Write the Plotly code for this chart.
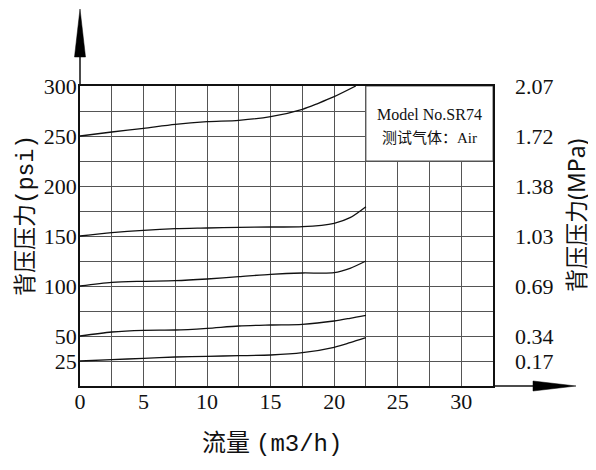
import plotly.graph_objects as go

# ---------------- data ----------------
flow = [0, 2.5, 5, 7.5, 10, 12.5, 15, 17.5, 20, 21.25, 22.5]
p25 = [25, 26.3, 27.7, 29, 29.7, 30.3, 31, 33.3, 38.7, 43.3, 48.3]
p50 = [50, 54, 55.7, 56, 57.7, 60, 61, 61.7, 65, 67.7, 70.7]
p100 = [100, 103.7, 104.7, 105.3, 107, 109.3, 111.7, 113, 113.3, 117.7, 125]
p150 = [150, 153.3, 155.7, 157.3, 158, 158.7, 159, 159.3, 162.7, 168.3, 179.3]
flow250 = [0, 2.5, 5, 7.5, 10, 12.5, 15, 17.5, 18.75, 20, 21.7]
p250 = [250, 254, 257.7, 261.7, 264.3, 265.7, 269.3, 276.7, 282.7, 289.3, 300]

x_ticks = [0, 5, 10, 15, 20, 25, 30]
y_ticks = [25, 50, 100, 150, 200, 250, 300]
mpa_labels = ["0.17", "0.34", "0.69", "1.03", "1.38", "1.72", "2.07"]

MONO = "Liberation Mono"
x_title = f"流量 <span style='font-family:{MONO}'>(m3/h)</span>"
y_title = f"背压压力<span style='font-family:{MONO}'>(psi)</span>"
y2_title = "背压压力<span style='font-family:Noto Sans'>(MPa)</span>"
box_lines = ["Model No.SR74", "测试气体：Air"]
box_x = [22.5, 32.5]
box_y = [225, 300]

# ---------------- layout geometry ----------------
OFF = 8  # default page body margin
W, H = 596 - OFF, 470 - OFF
# plot-area edges in screen pixels
SL, SR, ST, SB = 80, 493, 86, 386
L, R, T, B = SL - OFF, SR - OFF, ST - OFF, SB - OFF


def px(xs):
    return (xs - SL) / (SR - SL)


def py(ys):
    return (SB - ys) / (SB - ST)


LAT = "Liberation Serif, Noto Sans CJK SC"
CJK = "Liberation Serif, Noto Sans CJK SC"
GRID = "#555555"
INK = "#111111"

fig = go.Figure()
series = [(flow, p25), (flow, p50), (flow, p100), (flow, p150), (flow250, p250)]
for xs, ys in series:
    fig.add_trace(go.Scatter(
        x=xs, y=ys, mode="lines",
        line=dict(color=INK, width=1.3, shape="spline", smoothing=0.8),
        showlegend=False, hoverinfo="skip",
    ))

# invisible trace so the right-hand axis is drawn
fig.add_trace(go.Scatter(
    x=flow, y=p25, yaxis="y2", mode="lines",
    line=dict(width=0, color="rgba(0,0,0,0)"),
    showlegend=False, hoverinfo="skip",
))

fig.update_layout(
    width=W, height=H,
    margin=dict(l=L, r=W - R, t=T, b=H - B, pad=0, autoexpand=False),
    paper_bgcolor="white", plot_bgcolor="white",
    font=dict(family=LAT, color=INK),
    xaxis=dict(
        range=[0, 32.5], tickvals=x_ticks, ticks="", automargin=False,
        showgrid=True, gridcolor=GRID, gridwidth=1,
        minor=dict(dtick=2.5, tick0=0, showgrid=True, gridcolor=GRID, gridwidth=1),
        showline=True, linecolor=INK, linewidth=1.5, mirror=True,
        zeroline=False, tickfont=dict(family=LAT, size=22, color=INK),
        ticklabelstandoff=-5,
    ),
    yaxis=dict(
        range=[0, 300], tickvals=y_ticks, ticks="", automargin=False,
        showgrid=True, gridcolor=GRID, gridwidth=1,
        minor=dict(dtick=25, tick0=0, showgrid=True, gridcolor=GRID, gridwidth=1),
        showline=True, linecolor=INK, linewidth=1.5, mirror=True,
        zeroline=False, tickfont=dict(family=LAT, size=22, color=INK),
        ticklabelstandoff=-3,
    ),
    yaxis2=dict(
        range=[0, 300], overlaying="y", side="right", automargin=False,
        tickvals=y_ticks, ticktext=mpa_labels, ticks="",
        showgrid=False, showline=False, zeroline=False,
        tickfont=dict(family=LAT, size=22, color=INK),
        ticklabelstandoff=21,
    ),
    showlegend=False,
)

# legend-like info box (white, hides the grid in that corner)
fig.add_shape(type="rect", xref="x", yref="y",
              x0=box_x[0], x1=box_x[1], y0=box_y[0], y1=box_y[1],
              fillcolor="white", line=dict(color=GRID, width=1), layer="between")
box_cx = (box_x[0] + box_x[1]) / 2
box_cy = (box_y[0] + box_y[1]) / 2
fig.add_annotation(x=box_cx, y=box_cy + 9, xref="x", yref="y", text=box_lines[0],
                   showarrow=False, font=dict(family=LAT, size=16, color=INK))
fig.add_annotation(x=box_cx, y=box_cy - 14, xref="x", yref="y", text=box_lines[1],
                   showarrow=False, font=dict(family=CJK, size=15, color=INK))

# axis titles
fig.add_annotation(x=px(26), y=py(216), xref="paper", yref="paper", text=y_title,
                   textangle=-90, showarrow=False, xanchor="center", yanchor="middle",
                   font=dict(family=CJK, size=23, color=INK))
fig.add_annotation(x=px(576), y=py(216), xref="paper", yref="paper", text=y2_title,
                   textangle=-90, showarrow=False, xanchor="center", yanchor="middle",
                   font=dict(family=CJK, size=23, color=INK))
fig.add_annotation(x=px(272), y=py(444), xref="paper", yref="paper", text=x_title,
                   showarrow=False, xanchor="center", yanchor="middle",
                   font=dict(family=CJK, size=24, color=INK))

# axis extensions with arrow heads
fig.add_shape(type="line", xref="paper", yref="paper", x0=0, x1=0, y0=1, y1=py(57),
              line=dict(color=INK, width=1.5))
fig.add_shape(type="path", xref="paper", yref="paper",
              path=f"M {px(74.5)} {py(57)} L {px(85.5)} {py(57)} L {px(80)} {py(9)} Z",
              fillcolor="black", line=dict(color="black", width=0.5))
fig.add_shape(type="line", xref="paper", yref="paper", x0=1, x1=px(533), y0=0, y1=0,
              line=dict(color=INK, width=1.5))
fig.add_shape(type="path", xref="paper", yref="paper",
              path=f"M {px(533)} {py(381)} L {px(533)} {py(391)} L {px(576)} {py(386)} Z",
              fillcolor="black", line=dict(color="black", width=0.5))

fig.write_html("out.html")
